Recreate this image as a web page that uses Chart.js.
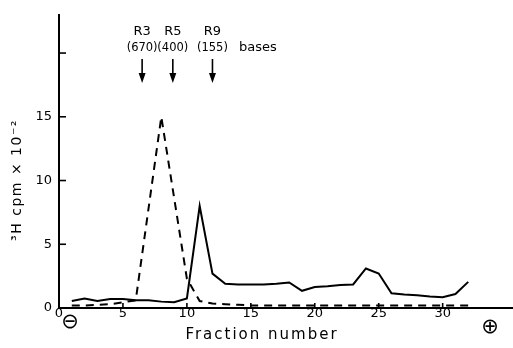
<!DOCTYPE html>
<html>
<head>
<meta charset="utf-8">
<script src="https://cdn.jsdelivr.net/npm/chart.js@4/dist/chart.umd.min.js"></script>
<style>
  html, body { margin: 0; padding: 0; background: #fff; }
  #wrap { width: 513px; height: 348px; }
</style>
</head>
<body>
<div id="wrap"><canvas id="chart" width="513" height="348"></canvas></div>
<script>
// Solid curve: one value per fraction
const solidFractions = [1, 2, 3, 4, 5, 6, 7, 8, 9, 10, 11, 12, 13, 14, 15, 16,
  17, 18, 19, 20, 21, 22, 23, 24, 25, 26, 27, 28, 29, 30, 31, 32];
const solidValues = [0.55, 0.75, 0.55, 0.7, 0.7, 0.6, 0.6, 0.5, 0.45, 0.75, 8.0, 2.7,
  1.9, 1.85, 1.85, 1.85, 1.9, 2.0, 1.35, 1.65, 1.7, 1.8, 1.85, 3.1,
  2.7, 1.15, 1.05, 1.0, 0.9, 0.85, 1.1, 2.05];

// Dashed curve
const dashFractions = [1, 2, 3, 4, 5, 6, 8, 10, 11, 12, 13, 14, 15, 20, 25, 30, 32];
const dashValues = [0.2, 0.2, 0.25, 0.3, 0.45, 0.6, 15.0, 2.3, 0.55, 0.35, 0.3, 0.25,
  0.2, 0.2, 0.2, 0.2, 0.2];

// Size markers (fraction where each arrow points)
const markerNames = ['R3', 'R5', 'R9'];
const markerBases = ['(670)', '(400)', '(155)'];
const markerFractions = [6.5, 8.9, 12.0];

const xTicks = [0, 5, 10, 15, 20, 25, 30];
const yTicks = [0, 5, 10, 15, 20];
const yLabelled = [0, 5, 10, 15];

const FONT = '"DejaVu Sans", sans-serif';

function toPoints(xs, ys) {
  return xs.map((x, i) => ({ x: x, y: ys[i] }));
}

// inward tick marks, arrows, labels and axis titles
const extras = {
  id: 'extras',
  afterDraw(chart) {
    const ctx = chart.ctx;
    const xs = chart.scales.x;
    const ys = chart.scales.y;
    const left = chart.chartArea.left;
    const bottom = chart.chartArea.bottom;
    ctx.save();
    ctx.strokeStyle = '#000';
    ctx.fillStyle = '#000';
    ctx.lineWidth = 1.6;

    yTicks.slice(1).forEach(v => {
      const py = ys.getPixelForValue(v);
      ctx.beginPath();
      ctx.moveTo(left, py);
      ctx.lineTo(left + 7, py);
      ctx.stroke();
    });
    xTicks.slice(1).forEach(v => {
      const px = xs.getPixelForValue(v);
      ctx.beginPath();
      ctx.moveTo(px, bottom);
      ctx.lineTo(px, bottom - 5);
      ctx.stroke();
    });

    // arrows with names
    ctx.textAlign = 'center';
    ctx.textBaseline = 'middle';
    markerFractions.forEach((f, i) => {
      const px = xs.getPixelForValue(f);
      ctx.font = '13px ' + FONT;
      ctx.fillText(markerNames[i], px, 32);
      ctx.font = '11.5px ' + FONT;
      ctx.fillText(markerBases[i], px, 48);
      ctx.lineWidth = 1.6;
      ctx.beginPath();
      ctx.moveTo(px, 59);
      ctx.lineTo(px, 76);
      ctx.stroke();
      ctx.beginPath();
      ctx.moveTo(px - 3.5, 73);
      ctx.lineTo(px + 3.5, 73);
      ctx.lineTo(px, 83);
      ctx.closePath();
      ctx.fill();
    });
    ctx.font = '13px ' + FONT;
    ctx.fillText('bases', 258, 48);

    // electrode signs
    ctx.font = '21px ' + FONT;
    ctx.fillText('\u2296', 70, 323);
    ctx.fillText('\u2295', 490, 328);

    // x title
    ctx.font = '15px ' + FONT;
    ctx.letterSpacing = '2px';
    ctx.fillText('Fraction number', 262, 335);

    // y title
    ctx.translate(17, 180);
    ctx.rotate(-Math.PI / 2);
    ctx.font = '14px ' + FONT;
    ctx.letterSpacing = '1.5px';
    ctx.fillText('\u00b3H cpm \u00d7 10\u207b\u00b2', 0, 0);
    ctx.restore();
  }
};

new Chart(document.getElementById('chart'), {
  type: 'line',
  data: {
    datasets: [
      {
        data: toPoints(solidFractions, solidValues),
        borderColor: '#000',
        borderWidth: 2,
        pointRadius: 0,
        tension: 0
      },
      {
        data: toPoints(dashFractions, dashValues),
        borderColor: '#000',
        borderWidth: 2,
        borderDash: [8, 6],
        pointRadius: 0,
        tension: 0
      }
    ]
  },
  options: {
    responsive: false,
    animation: false,
    layout: { padding: { top: 9, right: 0, left: 0, bottom: 0 } },
    plugins: { legend: { display: false }, tooltip: { enabled: false } },
    scales: {
      x: {
        type: 'linear',
        min: 0,
        max: 35.5,
        afterBuildTicks: s => { s.ticks = xTicks.map(v => ({ value: v })); },
        afterFit: s => { s.height = 40; },
        grid: { display: false, drawTicks: false },
        border: { display: true, color: '#000', width: 2 },
        ticks: { color: '#000', padding: -2, font: { family: FONT, size: 13 }, maxRotation: 0 }
      },
      y: {
        min: 0,
        max: 23,
        afterBuildTicks: s => { s.ticks = yTicks.map(v => ({ value: v })); },
        afterFit: s => { s.width = 59; },
        grid: { display: false, drawTicks: false },
        border: { display: true, color: '#000', width: 2 },
        ticks: {
          color: '#000',
          padding: 7,
          font: { family: FONT, size: 13 },
          callback: v => (yLabelled.includes(v) ? String(v) : '')
        }
      }
    }
  },
  plugins: [extras]
});
</script>
</body>
</html>
